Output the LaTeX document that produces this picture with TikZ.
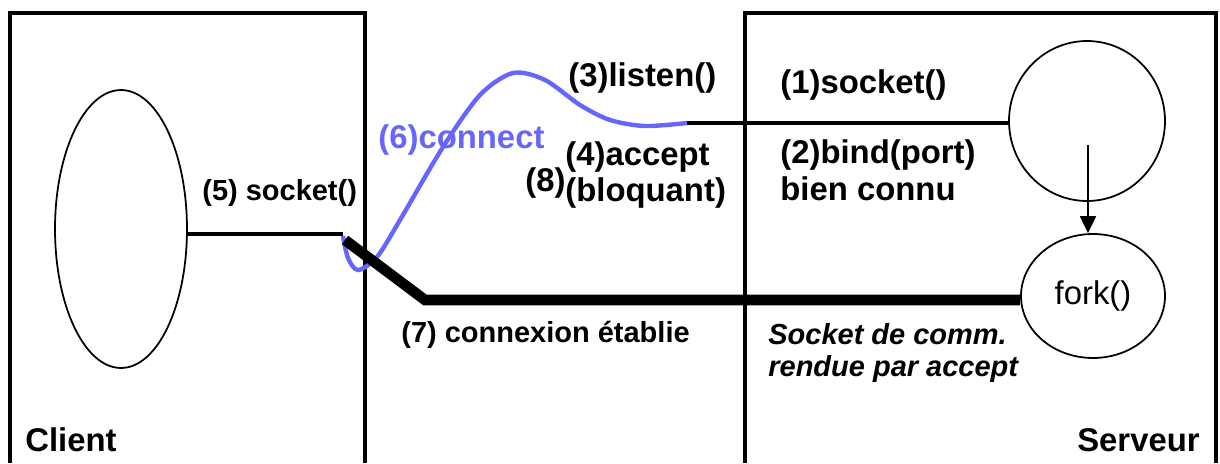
\documentclass[tikz,border=0pt]{standalone}
\usepackage{fontspec}
\setmainfont{Liberation Sans}
\usetikzlibrary{shapes.geometric,arrows.meta}
\definecolor{connblue}{RGB}{102,102,255}
\tikzset{
  biglbl/.style={font=\fontsize{18.7}{21}\selectfont\bfseries, inner sep=0pt, anchor=west, align=left},
  smalllbl/.style={font=\fontsize{16.5}{18.7}\selectfont\bfseries, inner sep=0pt, anchor=west, align=left},
  proc/.style={draw, ellipse, line width=1pt, inner sep=0pt},
  wall/.style={line width=2.3pt}
}
\begin{document}
\begin{tikzpicture}[x=0.02cm,y=-0.02cm]
\useasboundingbox (0,0) rectangle (1220,463);

% Define coordinates for the socket ends
\coordinate (csock) at (343,234);
\coordinate (cstart) at (345,240);
\coordinate (bend) at (425,300);
\coordinate (lsock) at (687,123);
\coordinate (fstart) at (1088,145);

% Client and server boxes (open at the bottom)
\draw[wall] (10,463) -- (10,13) -- (365,13) -- (365,463);
\draw[wall] (745,463) -- (745,13) -- (1216,13) -- (1216,463);

% Processes
\node[proc, minimum width=2.64cm, minimum height=5.56cm] (client) at (121,229) {};
\node[proc, minimum width=3.12cm, minimum height=3.2cm] (server) at (1087,121) {};
\node[proc, minimum width=2.88cm, minimum height=2.48cm, font=\fontsize{18.7}{21}\selectfont] (fork) at (1093,296) {fork()};

% (6) connect, under the sockets
\draw[connblue, line width=2.5pt] plot[smooth] coordinates {(lsock) (645,126) (610,120) (580,105) (545,80) (513,73) (480,95) (443,147) (400,220) (377,257) (358,270) (348,258) (343,236)};

% Sockets
\draw[line width=2.8pt] (client.east |- csock) -- (csock);
\draw[line width=2.8pt] (lsock) -- (lsock -| server.west);
\draw[line width=6pt] (cstart) -- (bend) -- (bend -| fork.west);

% fork
\draw[-{Triangle[length=0.34cm,width=0.32cm]}, line width=1.1pt] (fstart) -- (fstart |- fork.north);

% Labels
\node[smalllbl] (l5) at (202,193) {(5) socket()};
\node[biglbl, text=connblue] (l6) at (378,140) {(6)connect};
\node[biglbl] (l3) at (568,78) {(3)listen()};
\node[biglbl] (l4) at (565,175) {(4)accept\\(bloquant)};
\node[biglbl] (l8) at (525,183) {(8)};
\node[biglbl] (l1) at (780,85) {(1)socket()};
\node[biglbl] (l2) at (780,170) {(2)bind(port)\\bien connu};
\node[smalllbl] (l7) at (401,335) {(7) connexion établie};
\node[smalllbl, font=\fontsize{16.5}{18.7}\selectfont\bfseries\itshape] (lcomm) at (768,353) {Socket de comm.\\rendue par accept};
\node[biglbl] (lclient) at (25,440) {Client};
\node[biglbl, anchor=east] (lserveur) at (1200,440) {Serveur};

\end{tikzpicture}
\end{document}
